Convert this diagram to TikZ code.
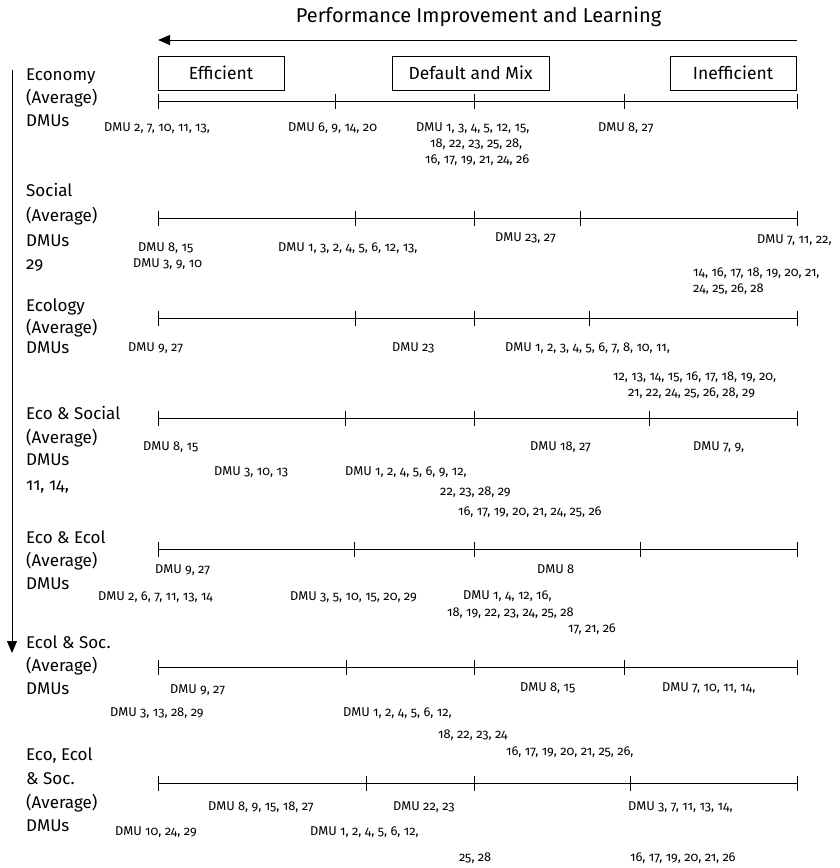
\documentclass[tikz,border=0pt]{standalone}
\usepackage{fontspec}
\setmainfont{Fira Sans}[Numbers=OldStyle]
\usetikzlibrary{arrows.meta}

\tikzset{
  rowlab/.style={anchor=west, inner sep=0pt, text height=0.69em, text depth=0pt, font=\fontsize{17}{20}\selectfont},
  dmu/.style={anchor=west, inner sep=0pt, text height=0.69em, text depth=0pt, font=\fontsize{12.8}{15}\selectfont},
  catbox/.style={draw, line width=0.9pt, minimum height=34pt, inner sep=0pt, font=\fontsize{17.5}{20}\selectfont},
  tl/.style={line width=1pt},
  bigarrow/.style={line width=1pt, -{Triangle[length=12pt,width=10pt]}},
}

% one scale of performance: y, then five tick positions
\newcommand\scaleline[6]{%
  \draw[tl] (#2,#1) -- (#6,#1);
  \foreach \tx in {#2,#3,#4,#5,#6} \draw[tl] (\tx,#1-7.5) -- (\tx,#1+7.5);
}

\begin{document}
\begin{tikzpicture}[x=1pt,y=-1pt]
\useasboundingbox (0,0) rectangle (839,868);

% heading and direction of improvement
\node[inner sep=0pt, font=\fontsize{20}{24}\selectfont] (title) at (478.5,17) {Performance Improvement and Learning};
\coordinate (arrR) at (797,40);
\coordinate (arrL) at (158,40);
\draw[bigarrow] (arrR) -- (arrL);

% categories
\node[catbox, minimum width=126pt] (eff) at (221,73) {Efficient};
\node[catbox, minimum width=157pt] (dmx) at (470.5,73) {Default and Mix};
\node[catbox, minimum width=126pt] (ineff) at (733,73) {Inefficient};

% vertical arrow along the dimensions
\coordinate (vTop) at (12,70);
\coordinate (vBot) at (12,653);
\draw[bigarrow, line width=0.9pt] (vTop) -- (vBot);

% ---- Economy
\node[rowlab] (r1a) at (26,77) {Economy};
\node[rowlab] (r1b) at (26,100) {(Average)};
\node[rowlab] (r1c) at (26,123) {DMUs};
\scaleline{101}{158}{335}{474}{624}{797}
\node[dmu] (r1d1) at (104,128) {DMU 2, 7, 10, 11, 13,};
\node[dmu] (r1d2) at (288,128) {DMU 6, 9, 14, 20};
\node[dmu] (r1d3) at (416,128) {DMU 1, 3, 4, 5, 12, 15,};
\node[dmu] (r1d4) at (430,144) {18, 22, 23, 25, 28,};
\node[dmu] (r1d5) at (425,160) {16, 17, 19, 21, 24, 26};
\node[dmu] (r1d6) at (598,128) {DMU 8, 27};

% ---- Social
\node[rowlab] (r2a) at (26,193) {Social};
\node[rowlab] (r2b) at (26,218) {(Average)};
\node[rowlab] (r2c) at (26,243) {DMUs};
\node[rowlab] (r2e) at (26,266) {29};
\scaleline{218}{158}{355}{474}{580}{797}
\node[dmu] (r2d1) at (138,248) {DMU 8, 15};
\node[dmu] (r2d2) at (133,264) {DMU 3, 9, 10};
\node[dmu] (r2d3) at (278,248) {DMU 1, 3, 2, 4, 5, 6, 12, 13,};
\node[dmu] (r2d4) at (495,238) {DMU 23, 27};
\node[dmu] (r2d5) at (757,240) {DMU 7, 11, 22,};
\node[dmu] (r2d6) at (693,273) {14, 16, 17, 18, 19, 20, 21,};
\node[dmu] (r2d7) at (693,289) {24, 25, 26, 28};

% ---- Ecology
\node[rowlab] (r3a) at (26,308) {Ecology};
\node[rowlab] (r3b) at (26,330) {(Average)};
\node[rowlab] (r3c) at (26,350) {DMUs};
\scaleline{318}{158}{355}{474}{589}{797}
\node[dmu] (r3d1) at (128,348) {DMU 9, 27};
\node[dmu] (r3d2) at (392,348) {DMU 23};
\node[dmu] (r3d3) at (505,348) {DMU 1, 2, 3, 4, 5, 6, 7, 8, 10, 11,};
\node[dmu] (r3d4) at (613,377) {12, 13, 14, 15, 16, 17, 18, 19, 20,};
\node[dmu] (r3d5) at (628,393) {21, 22, 24, 25, 26, 28, 29};

% ---- Eco & Social
\node[rowlab] (r4a) at (26,416) {Eco \& Social};
\node[rowlab] (r4b) at (26,440) {(Average)};
\node[rowlab] (r4c) at (26,462) {DMUs};
\node[rowlab] (r4e) at (26,487) {11, 14,};
\scaleline{418}{158}{345}{474}{649}{797}
\node[dmu] (r4d1) at (143,447) {DMU 8, 15};
\node[dmu] (r4d2) at (214,472) {DMU 3, 10, 13};
\node[dmu] (r4d3) at (345,472) {DMU 1, 2, 4, 5, 6, 9, 12,};
\node[dmu] (r4d4) at (440,492) {22, 23, 28, 29};
\node[dmu] (r4d5) at (458,512) {16, 17, 19, 20, 21, 24, 25, 26};
\node[dmu] (r4d6) at (530,447) {DMU 18, 27};
\node[dmu] (r4d7) at (693,447) {DMU 7, 9,};

% ---- Eco & Ecol
\node[rowlab] (r5a) at (26,540) {Eco \& Ecol};
\node[rowlab] (r5b) at (26,563) {(Average)};
\node[rowlab] (r5c) at (26,586) {DMUs};
\scaleline{549}{158}{354}{474}{640}{797}
\node[dmu] (r5d1) at (155,570) {DMU 9, 27};
\node[dmu] (r5d2) at (98,597) {DMU 2, 6, 7, 11, 13, 14};
\node[dmu] (r5d3) at (290,597) {DMU 3, 5, 10, 15, 20, 29};
\node[dmu] (r5d4) at (537,570) {DMU 8};
\node[dmu] (r5d5) at (463,596) {DMU 1, 4, 12, 16,};
\node[dmu] (r5d6) at (447,613) {18, 19, 22, 23, 24, 25, 28};
\node[dmu] (r5d7) at (568,629) {17, 21, 26};

% ---- Ecol & Soc.
\node[rowlab] (r6a) at (26,645) {Ecol \& Soc.};
\node[rowlab] (r6b) at (26,668) {(Average)};
\node[rowlab] (r6c) at (26,691) {DMUs};
\scaleline{667}{158}{346}{474}{624}{797}
\node[dmu] (r6d1) at (170,690) {DMU 9, 27};
\node[dmu] (r6d2) at (110,713) {DMU 3, 13, 28, 29};
\node[dmu] (r6d3) at (343,713) {DMU 1, 2, 4, 5, 6, 12,};
\node[dmu] (r6d4) at (438,735) {18, 22, 23, 24};
\node[dmu] (r6d5) at (506,752) {16, 17, 19, 20, 21, 25, 26,};
\node[dmu] (r6d6) at (520,688) {DMU 8, 15};
\node[dmu] (r6d7) at (662,688) {DMU 7, 10, 11, 14,};

% ---- Eco, Ecol & Soc.
\node[rowlab] (r7a) at (26,757) {Eco, Ecol};
\node[rowlab] (r7b) at (26,781) {\& Soc.};
\node[rowlab] (r7c) at (26,805) {(Average)};
\node[rowlab] (r7e) at (26,828) {DMUs};
\scaleline{783}{158}{366}{474}{630}{797}
\node[dmu] (r7d1) at (208,807) {DMU 8, 9, 15, 18, 27};
\node[dmu] (r7d2) at (115,832) {DMU 10, 24, 29};
\node[dmu] (r7d3) at (393,807) {DMU 22, 23};
\node[dmu] (r7d4) at (310,832) {DMU 1, 2, 4, 5, 6, 12,};
\node[dmu] (r7d5) at (459,858) {25, 28};
\node[dmu] (r7d6) at (628,807) {DMU 3, 7, 11, 13, 14,};
\node[dmu] (r7d7) at (630,858) {16, 17, 19, 20, 21, 26};
\end{tikzpicture}
\end{document}
